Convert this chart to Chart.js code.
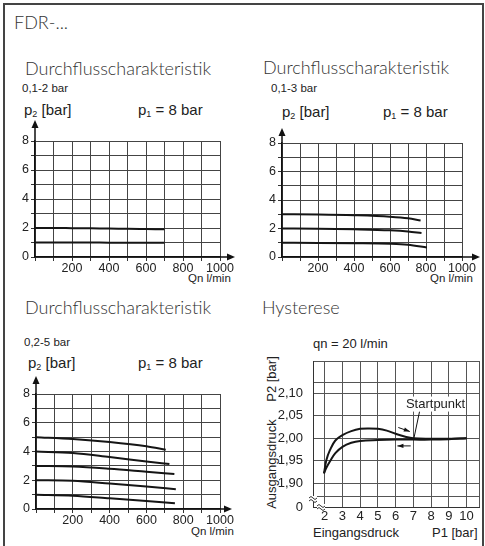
<!DOCTYPE html>
<html>
<head>
<meta charset="utf-8">
<script src="https://cdn.jsdelivr.net/npm/chart.js@4.4.1/dist/chart.umd.min.js"></script>
<style>
body{margin:0;background:#fff;width:485px;height:546px;overflow:hidden;position:relative}
.frame{position:absolute;left:3px;top:3px;width:477px;height:560px;border:2px solid #444}
.t{position:absolute;white-space:nowrap;line-height:1;color:#222}
.h{font-family:Lato,"Open Sans",sans-serif;font-weight:300;font-size:18px;color:#333}
.s{font-family:"Liberation Sans",Arial,sans-serif;font-size:11.5px}
.p{font-family:"Liberation Sans",Arial,sans-serif;font-size:15px}
.p sub{font-size:9px;vertical-align:-2px}
.n{font-family:"Liberation Sans Narrow","Liberation Sans",Arial,sans-serif;font-size:13px}
.r{transform:translate(-50%,-50%) rotate(-90deg)}
canvas{position:absolute}
</style>
</head>
<body>
<div class="frame"></div>

<div class="t h" style="left:14px;top:13px">FDR-...</div>

<div class="t h" style="left:25px;top:59px">Durchflusscharakteristik</div>
<div class="t s" style="left:22px;top:83px">0,1-2 bar</div>
<div class="t p" style="left:24px;top:102px">p<sub>2</sub> [bar]</div>
<div class="t p" style="left:138px;top:102px">p<sub>1</sub> = 8 bar</div>
<div class="t s" style="left:188px;top:273px">Qn l/min</div>

<div class="t h" style="left:263px;top:58px">Durchflusscharakteristik</div>
<div class="t s" style="left:271px;top:83px">0,1-3 bar</div>
<div class="t p" style="left:282px;top:104px">p<sub>2</sub> [bar]</div>
<div class="t p" style="left:383px;top:104px">p<sub>1</sub> = 8 bar</div>
<div class="t s" style="left:430px;top:273px">Qn l/min</div>

<div class="t h" style="left:25px;top:298px">Durchflusscharakteristik</div>
<div class="t s" style="left:24px;top:337px">0,2-5 bar</div>
<div class="t p" style="left:28px;top:355px">p<sub>2</sub> [bar]</div>
<div class="t p" style="left:138px;top:355px">p<sub>1</sub> = 8 bar</div>
<div class="t s" style="left:191px;top:526px">Qn l/min</div>

<div class="t h" style="left:262px;top:298px">Hysterese</div>
<div class="t n" style="left:313px;top:337px">qn = 20 l/min</div>
<div class="t n r" style="left:271px;top:379px">P2 [bar]</div>
<div class="t n r" style="left:271px;top:464px">Ausgangsdruck</div>
<div class="t n" style="left:313px;top:526px">Eingangsdruck</div>
<div class="t n" style="left:432px;top:526px">P1 [bar]</div>

<canvas id="c1" width="245" height="165" style="left:0;top:115px"></canvas>
<canvas id="c2" width="240" height="165" style="left:245px;top:115px"></canvas>
<canvas id="c3" width="245" height="170" style="left:0;top:365px"></canvas>
<canvas id="c4" width="240" height="206" style="left:245px;top:340px"></canvas>

<script>
// shared axes of the flow charts
const qnLabels = [200, 400, 600, 800, 1000];
const p2Labels = [0, 2, 4, 6, 8];

// chart 1: 0,1-2 bar
const flow1Qn = [0, 100, 200, 300, 400, 500, 600, 700];
const flow1P2a = [2.0, 2.0, 1.99, 1.98, 1.96, 1.95, 1.93, 1.91];
const flow1P2b = [1.0, 1.0, 1.0, 1.0, 0.99, 0.99, 0.99, 0.98];

// chart 2: 0,1-3 bar
const flow2QnA = [0, 200, 400, 600, 700, 770];
const flow2P2a = [3.0, 2.98, 2.93, 2.83, 2.72, 2.56];
const flow2QnB = [0, 200, 400, 600, 700, 775];
const flow2P2b = [2.0, 1.98, 1.94, 1.87, 1.79, 1.68];
const flow2QnC = [0, 200, 400, 600, 700, 805];
const flow2P2c = [1.0, 0.99, 0.97, 0.93, 0.86, 0.67];

// chart 3: 0,2-5 bar
const flow3Qn5 = [0, 200, 400, 600, 705];
const flow3P2_5 = [5.0, 4.87, 4.66, 4.36, 4.12];
const flow3Qn4 = [0, 200, 400, 600, 725];
const flow3P2_4 = [4.0, 3.89, 3.61, 3.31, 3.13];
const flow3Qn3 = [0, 200, 400, 600, 752];
const flow3P2_3 = [3.0, 2.96, 2.8, 2.59, 2.43];
const flow3Qn2 = [0, 200, 400, 600, 760];
const flow3P2_2 = [2.0, 1.96, 1.77, 1.56, 1.38];
const flow3Qn1 = [0, 200, 400, 600, 755];
const flow3P2_1 = [1.0, 0.93, 0.75, 0.56, 0.4];

// hysteresis, qn = 20 l/min
const hystUpP1 = [1.96, 2.1, 2.3, 2.6, 3, 3.5, 4, 4.5, 5, 5.5, 6, 6.5, 7, 8, 9, 10];
const hystUpP2 = [1.922, 1.952, 1.974, 1.995, 2.007, 2.016, 2.021, 2.022, 2.021, 2.017, 2.01, 2.004, 2.0, 1.999, 1.999, 2.0];
const hystDownP1 = [1.96, 2.1, 2.3, 2.6, 3, 3.5, 4, 5, 6, 7, 8, 9, 10];
const hystDownP2 = [1.922, 1.935, 1.949, 1.967, 1.981, 1.99, 1.994, 1.996, 1.997, 1.997, 1.997, 1.998, 2.0];
const hystP1Ticks = [2, 3, 4, 5, 6, 7, 8, 9, 10];
const hystP2Ticks = [1.90, 1.95, 2.00, 2.05, 2.10];
const hystP2Labels = ['1,90', '1,95', '2,00', '2,05', '2,10'];
const hystXRange = [1.34, 10.7];
const hystYRange = [1.847, 2.172];
const hystExtraLines = [1.87, 2.125];

const pts = (xs, ys) => xs.map((v, i) => ({x: v, y: ys[i]}));

const axisArrows = {
  id: 'axisArrows',
  afterDraw(chart, args, o) {
    const {ctx, chartArea: a} = chart;
    ctx.save();
    ctx.strokeStyle = '#111';
    ctx.fillStyle = '#111';
    ctx.lineWidth = 1.5;
    ctx.beginPath();
    ctx.moveTo(a.left, a.top);
    ctx.lineTo(a.left, a.top - o.up + 6);
    ctx.moveTo(a.right, a.bottom);
    ctx.lineTo(a.right + o.right - 6, a.bottom);
    ctx.stroke();
    ctx.beginPath();
    ctx.moveTo(a.left, a.top - o.up);
    ctx.lineTo(a.left - 3.5, a.top - o.up + 8);
    ctx.lineTo(a.left + 3.5, a.top - o.up + 8);
    ctx.closePath();
    ctx.fill();
    ctx.beginPath();
    ctx.moveTo(a.right + o.right, a.bottom);
    ctx.lineTo(a.right + o.right - 8, a.bottom - 3.5);
    ctx.lineTo(a.right + o.right - 8, a.bottom + 3.5);
    ctx.closePath();
    ctx.fill();
    ctx.restore();
  }
};

const tickFont = {family: '"Liberation Sans", Arial, sans-serif', size: 12.5};

function flowChart(id, series, lay) {
  return new Chart(document.getElementById(id), {
    type: 'line',
    data: {
      datasets: series.map(s => ({
        data: s,
        borderColor: '#151515',
        borderWidth: 2,
        pointRadius: 0,
        cubicInterpolationMode: 'monotone'
      }))
    },
    options: {
      responsive: false,
      animation: false,
      layout: {padding: {left: 0, top: lay.top, right: lay.right, bottom: lay.bottom}},
      plugins: {legend: {display: false}, tooltip: {enabled: false}, axisArrows: lay.arrows},
      scales: {
        x: {
          type: 'linear', min: 0, max: 1000,
          ticks: {stepSize: 100, autoSkip: false, maxRotation: 0, padding: 0, color: '#222', font: tickFont,
            callback: v => qnLabels.includes(Math.round(v)) ? Math.round(v) : ''},
          grid: {color: '#444', lineWidth: 1, tickLength: 4, tickColor: '#333'},
          border: {color: '#111', width: 1.5},
          afterFit: s => { s.height = 20; }
        },
        y: {
          min: 0, max: 8,
          ticks: {stepSize: 1, autoSkip: false, padding: 2, color: '#222', font: tickFont,
            callback: v => p2Labels.includes(v) ? v : ''},
          grid: {color: '#444', lineWidth: 1, tickLength: 4, tickColor: '#333'},
          border: {color: '#111', width: 1.5},
          afterFit: s => { s.width = lay.yw; }
        }
      }
    },
    plugins: [axisArrows]
  });
}

flowChart('c1', [pts(flow1Qn, flow1P2a), pts(flow1Qn, flow1P2b)],
  {top: 26, right: 25, bottom: 3, yw: 35, arrows: {up: 21, right: 15}});
flowChart('c2', [pts(flow2QnA, flow2P2a), pts(flow2QnB, flow2P2b), pts(flow2QnC, flow2P2c)],
  {top: 28, right: 23, bottom: 3, yw: 37, arrows: {up: 15, right: 18}});
flowChart('c3', [pts(flow3Qn5, flow3P2_5), pts(flow3Qn4, flow3P2_4), pts(flow3Qn3, flow3P2_3),
  pts(flow3Qn2, flow3P2_2), pts(flow3Qn1, flow3P2_1)],
  {top: 29, right: 25, bottom: 6, yw: 36, arrows: {up: 18, right: 12}});

// annotation spots of the hysteresis chart, in data units
const upArrow = [[6.15, 2.024], [6.8, 2.015]];
const downArrow = [[6.85, 1.983], [6.1, 1.983]];
const startLeader = [[7.35, 2.06], [7.03, 2.0]];
const startLabel = [8.25, 2.075];

const hystNotes = {
  id: 'hystNotes',
  afterDatasetsDraw(chart) {
    const {ctx, scales: {x, y}, chartArea: a} = chart;
    const P = p => [x.getPixelForValue(p[0]), y.getPixelForValue(p[1])];
    ctx.save();
    ctx.strokeStyle = '#111';
    ctx.fillStyle = '#111';
    ctx.lineWidth = 1;
    const arrow = (p0, p1) => {
      const [x0, y0] = P(p0), [x1, y1] = P(p1);
      const ang = Math.atan2(y1 - y0, x1 - x0);
      ctx.beginPath(); ctx.moveTo(x0, y0); ctx.lineTo(x1, y1); ctx.stroke();
      ctx.beginPath();
      ctx.moveTo(x1, y1);
      ctx.lineTo(x1 - 6 * Math.cos(ang) + 2.2 * Math.sin(ang), y1 - 6 * Math.sin(ang) - 2.2 * Math.cos(ang));
      ctx.lineTo(x1 - 6 * Math.cos(ang) - 2.2 * Math.sin(ang), y1 - 6 * Math.sin(ang) + 2.2 * Math.cos(ang));
      ctx.closePath(); ctx.fill();
    };
    arrow(upArrow[0], upArrow[1]);
    arrow(downArrow[0], downArrow[1]);
    const [lx0, ly0] = P(startLeader[0]), [lx1, ly1] = P(startLeader[1]);
    ctx.beginPath(); ctx.moveTo(lx0, ly0); ctx.lineTo(lx1, ly1); ctx.stroke();
    const [tx, ty] = P(startLabel);
    ctx.fillStyle = '#fff';
    ctx.fillRect(tx - 27, ty - 8, 54, 15);
    ctx.fillStyle = '#222';
    ctx.font = '13px "Liberation Sans Narrow", "Liberation Sans", Arial';
    ctx.textAlign = 'center';
    ctx.textBaseline = 'middle';
    ctx.fillText('Startpunkt', tx, ty);
    // axis break marks
    ctx.strokeStyle = '#333';
    const brk = (cx, cy) => {
      ctx.fillStyle = '#fff';
      ctx.fillRect(cx - 4, cy - 3, 8, 6);
      ctx.beginPath();
      ctx.moveTo(cx - 4, cy - 1); ctx.quadraticCurveTo(cx - 2, cy - 4, cx, cy - 1); ctx.quadraticCurveTo(cx + 2, cy + 2, cx + 4, cy - 1);
      ctx.moveTo(cx - 4, cy + 2); ctx.quadraticCurveTo(cx - 2, cy - 1, cx, cy + 2); ctx.quadraticCurveTo(cx + 2, cy + 5, cx + 4, cy + 2);
      ctx.stroke();
    };
    brk(a.left, a.bottom - 8);
    brk(a.left + 8, a.bottom);
    ctx.restore();
  }
};

const narrowFont = {family: '"Liberation Sans Narrow", "Liberation Sans", Arial, sans-serif', size: 13};

new Chart(document.getElementById('c4'), {
  type: 'line',
  data: {
    datasets: [
      {data: pts(hystUpP1, hystUpP2), borderColor: '#151515', borderWidth: 2, pointRadius: 0, tension: 0.4},
      {data: pts(hystDownP1, hystDownP2), borderColor: '#151515', borderWidth: 2, pointRadius: 0, tension: 0.4}
    ]
  },
  options: {
    responsive: false,
    animation: false,
    layout: {padding: {left: 0, top: 21, right: 6, bottom: 19}},
    plugins: {legend: {display: false}, tooltip: {enabled: false}},
    scales: {
      x: {
        type: 'linear', min: hystXRange[0], max: hystXRange[1],
        afterBuildTicks: s => { s.ticks = [hystXRange[0], ...hystP1Ticks, hystXRange[1]].map(v => ({value: v})); },
        ticks: {autoSkip: false, maxRotation: 0, padding: 2, color: '#222', font: narrowFont,
          callback: v => hystP1Ticks.includes(v) ? String(v) : ''},
        grid: {color: '#555', lineWidth: 1, drawTicks: false},
        border: {color: '#333', width: 1},
        afterFit: s => { s.height = 20; }
      },
      y: {
        min: hystYRange[0], max: hystYRange[1],
        afterBuildTicks: s => { s.ticks = [hystYRange[0], hystExtraLines[0], ...hystP2Ticks, hystExtraLines[1], hystYRange[1]].map(v => ({value: v})); },
        ticks: {autoSkip: false, padding: 10, color: '#222', font: narrowFont,
          callback: v => {
            if (v === hystYRange[0]) return '0';
            const i = hystP2Ticks.indexOf(v);
            return i >= 0 ? hystP2Labels[i] : '';
          }},
        grid: {color: '#555', lineWidth: 1, drawTicks: false},
        border: {color: '#333', width: 1},
        afterFit: s => { s.width = 68; }
      }
    }
  },
  plugins: [hystNotes]
});
</script>
</body>
</html>
